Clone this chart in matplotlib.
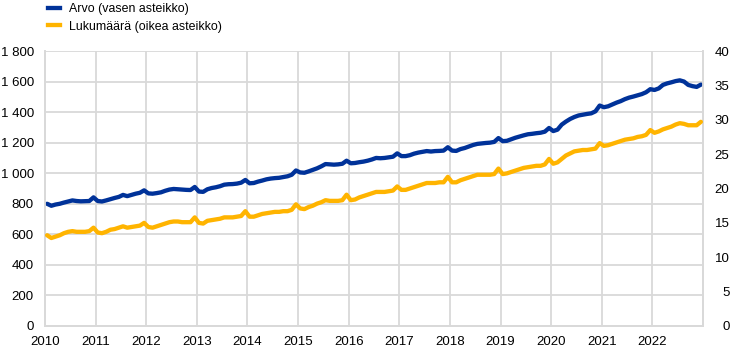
import matplotlib
matplotlib.use("Agg")
import matplotlib.pyplot as plt
import numpy as np
from matplotlib.ticker import FuncFormatter
from matplotlib.lines import Line2D

plt.rcParams['font.family'] = ['Liberation Sans', 'DejaVu Sans']

# Monthly data, Jan 2010 - Dec 2022
years = list(range(2010, 2023))

arvo = [
    800, 787, 795, 800, 808, 815, 822, 818, 816, 817, 818, 842,      # 2010
    818, 815, 822, 830, 838, 845, 858, 850, 858, 866, 872, 888,      # 2011
    868, 866, 870, 875, 885, 893, 897, 895, 893, 891, 890, 910,      # 2012
    880, 878, 895, 903, 908, 915, 925, 928, 929, 932, 938, 956,      # 2013
    934, 936, 945, 952, 960, 965, 968, 970, 975, 980, 990, 1018,     # 2014
    1005, 1003, 1012, 1022, 1032, 1045, 1060, 1058, 1056, 1058, 1062, 1082,  # 2015
    1065, 1067, 1072, 1076, 1082, 1090, 1100, 1098, 1100, 1104, 1108, 1130,  # 2016
    1112, 1112, 1118, 1128, 1135, 1140, 1145, 1142, 1145, 1146, 1148, 1170,  # 2017
    1148, 1146, 1158, 1165, 1175, 1185, 1192, 1195, 1198, 1200, 1205, 1230,  # 2018
    1210, 1212, 1222, 1232, 1240, 1248, 1255, 1258, 1262, 1265, 1272, 1296,  # 2019
    1276, 1285, 1318, 1338, 1355, 1368, 1378, 1383, 1388, 1392, 1405, 1443,  # 2020
    1432, 1438, 1450, 1462, 1472, 1485, 1495, 1502, 1510, 1518, 1530, 1550,  # 2021
    1545, 1555, 1578, 1588, 1595, 1603, 1608, 1600, 1578, 1570, 1565, 1580,  # 2022
]

lukumaara = [
    13.2, 12.8, 13.0, 13.2, 13.5, 13.7, 13.8, 13.7, 13.7, 13.7, 13.8, 14.3,  # 2010
    13.6, 13.5, 13.7, 14.0, 14.1, 14.3, 14.5, 14.3, 14.4, 14.5, 14.6, 15.0,  # 2011
    14.4, 14.3, 14.5, 14.7, 14.9, 15.1, 15.2, 15.2, 15.1, 15.1, 15.1, 15.8,  # 2012
    15.0, 14.9, 15.3, 15.4, 15.5, 15.6, 15.8, 15.8, 15.8, 15.9, 16.0, 16.7,  # 2013
    15.9, 15.9, 16.1, 16.3, 16.4, 16.5, 16.6, 16.6, 16.7, 16.7, 16.9, 17.7,  # 2014
    17.1, 17.0, 17.3, 17.5, 17.8, 18.0, 18.3, 18.2, 18.2, 18.2, 18.3, 19.1,  # 2015
    18.3, 18.4, 18.7, 18.9, 19.1, 19.3, 19.5, 19.5, 19.5, 19.6, 19.7, 20.3,  # 2016
    19.8, 19.8, 20.0, 20.2, 20.4, 20.6, 20.8, 20.8, 20.8, 20.9, 20.9, 21.7,  # 2017
    20.9, 20.9, 21.2, 21.4, 21.6, 21.8, 22.0, 22.0, 22.0, 22.0, 22.1, 22.9,  # 2018
    22.1, 22.2, 22.4, 22.6, 22.8, 23.0, 23.1, 23.2, 23.3, 23.3, 23.5, 24.3,  # 2019
    23.6, 23.8, 24.3, 24.8, 25.1, 25.4, 25.5, 25.6, 25.6, 25.7, 25.8, 26.6,  # 2020
    26.2, 26.3, 26.5, 26.7, 26.9, 27.1, 27.2, 27.3, 27.5, 27.6, 27.8, 28.5,  # 2021
    28.1, 28.3, 28.6, 28.8, 29.0, 29.3, 29.5, 29.4, 29.2, 29.2, 29.2, 29.7,  # 2022
]

labels = ['Arvo (vasen asteikko)', 'Lukumäärä (oikea asteikko)']
left_ticks = list(range(0, 1801, 200))
right_ticks = list(range(0, 41, 5))

BLUE = '#003299'
YELLOW = '#FFB400'
GRID = '#d9d9d9'
TXT = '#000000'

x = np.array([years[0] + (i + 0.5) / 12 for i in range(len(arvo))])

fig = plt.figure(figsize=(7.44, 3.54), dpi=100)
ax = fig.add_axes([45 / 744, 1 - 326 / 354, (703 - 45) / 744, (326 - 51) / 354])
ax2 = ax.twinx()

ax2.plot(x, lukumaara, color=YELLOW, lw=3.1, solid_capstyle='round', solid_joinstyle='round', zorder=3)
ax.plot(x, arvo, color=BLUE, lw=3.1, solid_capstyle='round', solid_joinstyle='round', zorder=3)

ax.set_xlim(2010, 2023)
ax.set_ylim(0, 1800)
ax2.set_ylim(0, 40)

ax.set_xticks(years)
ax.set_xticklabels([str(y) for y in years])
ax.set_yticks(left_ticks)
ax.yaxis.set_major_formatter(FuncFormatter(lambda v, p: f"{int(v):,}".replace(",", " ")))
ax2.set_yticks(right_ticks)
ax2.set_yticklabels([str(v) for v in right_ticks])

ax.grid(True, color=GRID, lw=1.3, zorder=0)
ax.set_axisbelow(True)
ax2.grid(False)

for a in (ax, ax2):
    a.spines['top'].set_visible(False)
    for s in ('left', 'right', 'bottom'):
        a.spines[s].set_color(GRID)
        a.spines[s].set_linewidth(1.3)

ax.tick_params(axis='x', length=0, pad=7, labelsize=9.5, colors=TXT)
ax.tick_params(axis='y', length=0, pad=8, labelsize=9.5, colors=TXT)
ax2.tick_params(axis='y', length=0, pad=19, labelsize=9.5, colors=TXT)
for t in ax2.get_yticklabels():
    t.set_ha('right')

handles = [Line2D([0], [0], color=BLUE, lw=3.1),
           Line2D([0], [0], color=YELLOW, lw=3.1)]
fig.legend(handles, labels, loc='upper left', bbox_to_anchor=(48 / 744, 1 - 3 / 354),
           frameon=False, fontsize=8.9, handlelength=0.95, handletextpad=0.75,
           labelspacing=0.45, borderaxespad=0.0, borderpad=0.0)

fig.savefig('out.png', dpi=100)
